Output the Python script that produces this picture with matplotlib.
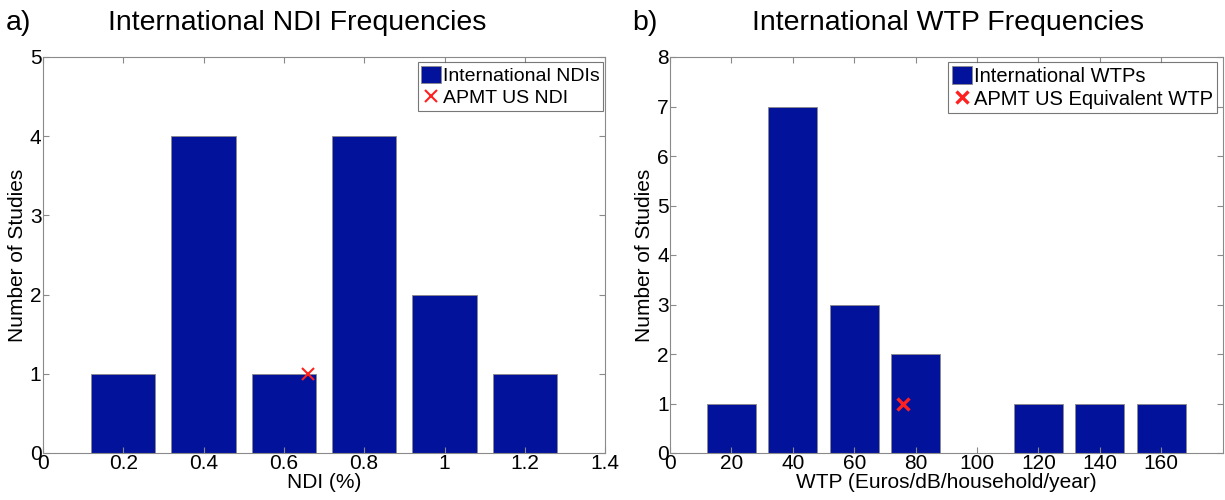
import numpy as np
import matplotlib.pyplot as plt
from matplotlib.patches import Patch
from matplotlib.lines import Line2D

plt.rcParams["font.family"] = ["Liberation Sans", "DejaVu Sans"]
plt.rcParams["font.size"] = 15

ndi_bins = [0.2, 0.4, 0.6, 0.8, 1.0, 1.2]
ndi_counts = [1, 4, 1, 4, 2, 1]
ndi_us = (0.66, 1)

wtp_bins = [20, 40, 60, 80, 100, 120, 140, 160]
wtp_counts = [1, 7, 3, 2, 0, 1, 1, 1]
wtp_us = (76, 1)

bar_color = '#03129b'
edge = '#8a8a8a'

fig = plt.figure(figsize=(12.25, 5), dpi=100)
ax1 = fig.add_axes([0.035, 0.094, 0.459, 0.792])
ax2 = fig.add_axes([0.547, 0.094, 0.451, 0.792])

def style(ax):
    for s in ax.spines.values():
        s.set_color(edge)
        s.set_linewidth(0.8)
    ax.tick_params(direction='in', top=True, right=True, color=edge,
                   labelsize=15, length=4, pad=1)

ax1.bar(ndi_bins, ndi_counts, width=0.16, color=bar_color, edgecolor=edge, linewidth=0.6)
ax1.plot(ndi_us[0], ndi_us[1], 'x', color='#ff2020', markersize=8, markeredgewidth=1.5)
ax1.set_xlim(0, 1.4)
ax1.set_ylim(0, 5)
ax1.set_xticks([0, 0.2, 0.4, 0.6, 0.8, 1, 1.2, 1.4])
ax1.set_xticklabels(['0', '0.2', '0.4', '0.6', '0.8', '1', '1.2', '1.4'])
ax1.set_yticks(range(6))
ax1.set_xlabel('NDI (%)', fontsize=15, labelpad=0)
ax1.set_ylabel('Number of Studies', fontsize=15, labelpad=2)
style(ax1)
h1 = [Patch(facecolor=bar_color, edgecolor=edge, linewidth=0.6),
      Line2D([], [], marker='x', color='#ff2020', linestyle='none', markersize=8, markeredgewidth=1.5)]
leg = ax1.legend(h1, ['International NDIs', 'APMT US NDI'], loc='upper right',
                 bbox_to_anchor=(0.997, 0.988), fontsize=14,
                 fancybox=False, edgecolor='#555555', handlelength=1.0, handleheight=1.0,
                 handletextpad=0.1, borderaxespad=0.0, borderpad=0.2, labelspacing=0.15)
leg.get_frame().set_linewidth(0.8)

ax2.bar(wtp_bins, wtp_counts, width=16, color=bar_color, edgecolor=edge, linewidth=0.6)
ax2.plot(wtp_us[0], wtp_us[1], 'x', color='#ff2020', markersize=8, markeredgewidth=2.4)
ax2.set_xlim(0, 180)
ax2.set_ylim(0, 8)
ax2.set_xticks(range(0, 161, 20))
ax2.set_yticks(range(9))
ax2.set_xlabel('WTP (Euros/dB/household/year)', fontsize=15, labelpad=0)
ax2.set_ylabel('Number of Studies', fontsize=15, labelpad=2)
style(ax2)
h2 = [Patch(facecolor=bar_color, edgecolor=edge, linewidth=0.6),
      Line2D([], [], marker='x', color='#ff2020', linestyle='none', markersize=8, markeredgewidth=2.4)]
leg = ax2.legend(h2, ['International WTPs', 'APMT US Equivalent WTP'], loc='upper right',
                 bbox_to_anchor=(0.99, 0.988), fontsize=14.5,
                 fancybox=False, edgecolor='#555555', handlelength=1.0, handleheight=1.0,
                 handletextpad=0.1, borderaxespad=0.0, borderpad=0.2, labelspacing=0.15)
leg.get_frame().set_linewidth(0.8)

fig.text(0.005, 0.955, 'a)', fontsize=20.5, va='center')
fig.text(0.243, 0.955, 'International NDI Frequencies', fontsize=20.5, va='center', ha='center')
fig.text(0.516, 0.955, 'b)', fontsize=20.5, va='center')
fig.text(0.774, 0.955, 'International WTP Frequencies', fontsize=20.5, va='center', ha='center')

fig.savefig('out.png', dpi=100)
